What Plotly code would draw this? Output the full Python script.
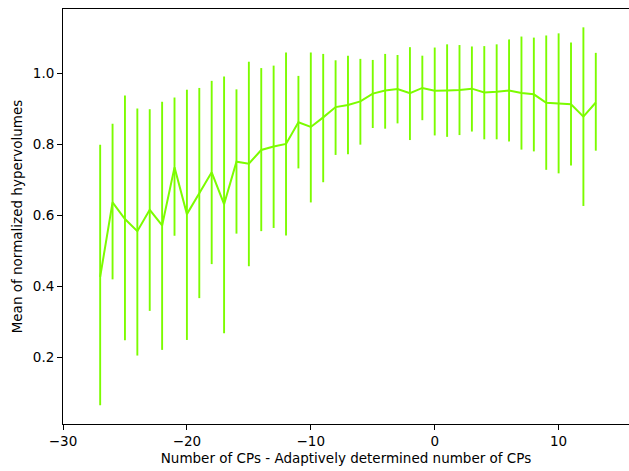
import plotly.graph_objects as go

x_vals = list(range(-27, 14))
means = [0.427, 0.637, 0.590, 0.556, 0.616, 0.572, 0.736, 0.604, 0.663, 0.722,
         0.632, 0.752, 0.746, 0.785, 0.795, 0.802, 0.863, 0.850, 0.877, 0.906,
         0.912, 0.922, 0.944, 0.953, 0.957, 0.945, 0.960, 0.952, 0.953, 0.954,
         0.958, 0.947, 0.949, 0.953, 0.946, 0.942, 0.918, 0.916, 0.914, 0.879,
         0.919]
upper = [0.800, 0.859, 0.939, 0.902, 0.900, 0.921, 0.933, 0.955, 0.960, 0.980,
         0.992, 0.956, 1.034, 1.016, 1.023, 1.060, 0.994, 1.060, 1.056, 1.038,
         1.051, 1.042, 1.039, 1.056, 1.053, 1.075, 1.051, 1.074, 1.083, 1.081,
         1.077, 1.078, 1.083, 1.097, 1.105, 1.102, 1.108, 1.114, 1.088, 1.131,
         1.059]
lower = [0.065, 0.420, 0.248, 0.205, 0.331, 0.221, 0.543, 0.249, 0.367, 0.463,
         0.268, 0.549, 0.457, 0.556, 0.565, 0.544, 0.733, 0.637, 0.694, 0.771,
         0.773, 0.800, 0.847, 0.845, 0.860, 0.813, 0.869, 0.826, 0.822, 0.827,
         0.837, 0.815, 0.815, 0.809, 0.786, 0.781, 0.729, 0.719, 0.741, 0.627,
         0.783]
x_ticks = [-30, -20, -10, 0, 10]
y_ticks = [0.2, 0.4, 0.6, 0.8, 1.0]

err_plus = [u - m for u, m in zip(upper, means)]
err_minus = [m - l for m, l in zip(means, lower)]

color = "#7CFC00"
font_family = "DejaVu Sans"

fig = go.Figure()
fig.add_trace(go.Scatter(
    x=x_vals, y=means, mode="lines",
    line=dict(color=color, width=2),
    error_y=dict(type="data", symmetric=False, array=err_plus, arrayminus=err_minus,
                 color=color, thickness=1.9, width=0),
    showlegend=False,
))

fig.update_layout(
    width=629, height=471,
    margin=dict(l=63, r=0, t=9, b=47),
    paper_bgcolor="white", plot_bgcolor="white",
    font=dict(family=font_family, size=13, color="black"),
    xaxis=dict(
        range=[-30, 15.68], tickvals=x_ticks,
        showgrid=False, zeroline=False,
        showline=True, linecolor="black", linewidth=1, mirror=True,
        ticks="outside", ticklen=5, tickwidth=1, tickcolor="black",
        tickfont=dict(size=13.5),
        title=dict(text="Number of CPs - Adaptively determined number of CPs",
                   font=dict(size=13.5), standoff=5),
    ),
    yaxis=dict(
        range=[0.0119, 1.1827], tickvals=y_ticks, tickformat=".1f",
        showgrid=False, zeroline=False,
        showline=True, linecolor="black", linewidth=1, mirror=False,
        ticks="outside", ticklen=5, tickwidth=1, tickcolor="black",
        tickfont=dict(size=13.5),
        title=dict(text="Mean of normalized hypervolumes",
                   font=dict(size=13.5), standoff=7),
    ),
)

fig.write_html("out.html")
